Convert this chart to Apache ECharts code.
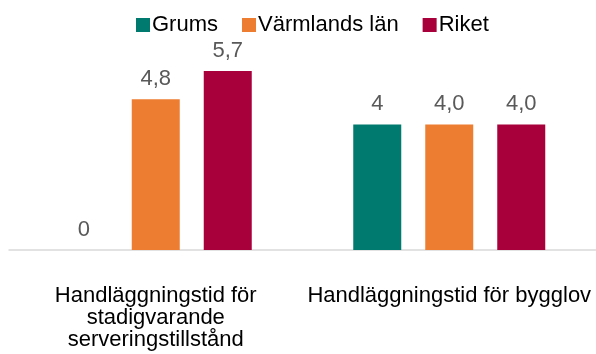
<!DOCTYPE html>
<html>
<head>
<meta charset="utf-8">
<script src="https://cdn.jsdelivr.net/npm/echarts@6/dist/echarts.min.js"></script>
<style>
  html, body { margin: 0; padding: 0; background: #ffffff; }
  #chart { width: 596px; height: 354px; }
</style>
</head>
<body>
<div id="chart"></div>
<script>
// Handläggningstid (veckor) per kategori
const categories = [
  'Handläggningstid för\nstadigvarande\nserveringstillstånd',
  'Handläggningstid för bygglov'
];
const seriesNames = ['Grums', 'Värmlands län', 'Riket'];
const grums = [0, 4];
const varmland = [4.8, 4.0];
const riket = [5.7, 4.0];
const colors = ['#007A6E', '#ED7D31', '#A8003A'];

const FONT = 'Liberation Sans, Arial, sans-serif';

function fmtDecimal(p) {
  return p.value.toFixed(1).replace('.', ',');
}
function fmtPlain(p) {
  return String(p.value).replace('.', ',');
}

function makeSeries(name, data, color, formatter) {
  return {
    name: name,
    type: 'bar',
    data: data,
    barWidth: 48,
    barGap: '50%',
    itemStyle: { color: color },
    label: {
      show: true,
      position: 'top',
      distance: 9,
      formatter: formatter,
      color: '#595959',
      fontFamily: FONT,
      fontSize: 22
    }
  };
}

const chart = echarts.init(document.getElementById('chart'), null, { renderer: 'canvas' });
chart.setOption({
  animation: false,
  color: colors,
  legend: {
    data: seriesNames,
    top: 9,
    left: 131,
    itemWidth: 14,
    itemHeight: 14,
    itemGap: 24,
    icon: 'rect',
    textStyle: {
      fontFamily: FONT,
      fontSize: 22,
      color: '#000000',
      padding: [0, 0, 0, -3]
    }
  },
  grid: {
    left: 9,
    width: 590,
    top: 61.6,
    height: 188.4,
    containLabel: false
  },
  xAxis: {
    type: 'category',
    data: categories,
    axisLine: { lineStyle: { color: '#d9d9d9', width: 1.5 } },
    axisTick: { show: false },
    axisLabel: {
      interval: 0,
      margin: 35,
      fontFamily: FONT,
      fontSize: 22,
      lineHeight: 22,
      color: '#000000'
    }
  },
  yAxis: {
    type: 'value',
    min: 0,
    max: 6,
    show: false,
    splitLine: { show: false }
  },
  series: [
    makeSeries(seriesNames[0], grums, colors[0], fmtPlain),
    makeSeries(seriesNames[1], varmland, colors[1], fmtDecimal),
    makeSeries(seriesNames[2], riket, colors[2], fmtDecimal)
  ]
});
</script>
</body>
</html>
